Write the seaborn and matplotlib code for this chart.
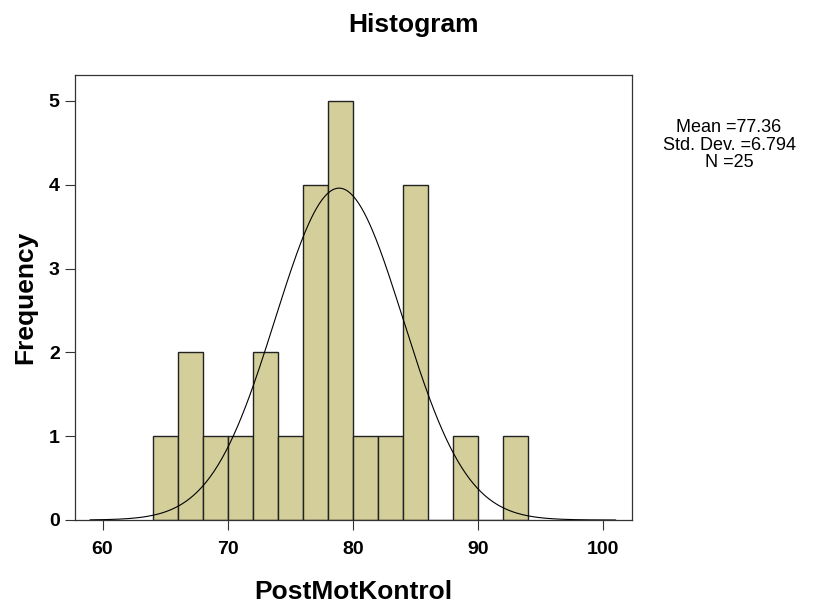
import numpy as np
import pandas as pd
import seaborn as sns
import matplotlib.pyplot as plt

# histogram bins (width 2) and frequencies
bin_left = [64, 66, 68, 70, 72, 74, 76, 78, 80, 82, 84, 86, 88, 90, 92]
freq = [1, 2, 1, 1, 2, 1, 4, 5, 1, 1, 4, 0, 1, 0, 1]
bin_width = 2

# fitted normal curve as drawn in the picture
curve_mean = 78.9
curve_sd = 5.1
curve_peak = 3.96

stats_text = "Mean =77.36\nStd. Dev. =6.794\nN =25"

df = pd.DataFrame({"value": [b + bin_width / 2 for b in bin_left], "freq": freq})

sns.set_style("ticks")
plt.rcParams['font.family'] = ['Liberation Sans', 'DejaVu Sans']
plt.rcParams['text.color'] = 'black'
plt.rcParams['xtick.labelcolor'] = 'black'
plt.rcParams['ytick.labelcolor'] = 'black'
plt.rcParams['axes.labelcolor'] = 'black'

fig = plt.figure(figsize=(8.13, 6.03), dpi=100)
ax = fig.add_axes([75 / 813, 83 / 603, 557 / 813, 445 / 603])

sns.histplot(data=df, x="value", weights="freq",
             binwidth=bin_width, binrange=(64, 94), ax=ax,
             color="#D3CE9A", edgecolor="#222222", linewidth=1.0, alpha=1)

xs = np.linspace(59, 101, 400)
ys = curve_peak * np.exp(-((xs - curve_mean) ** 2) / (2 * curve_sd ** 2))
sns.lineplot(x=xs, y=ys, ax=ax, color="black", linewidth=0.8)

ax.set_xlim(57.8, 102.3)
ax.set_ylim(0, 5.31)
ax.set_xticks([60, 70, 80, 90, 100])
ax.set_yticks([0, 1, 2, 3, 4, 5])
ax.tick_params(labelsize=14, length=7, width=0.8, color="#333333", pad=4)
ax.tick_params(axis="x", pad=8)
for lab in ax.get_xticklabels() + ax.get_yticklabels():
    lab.set_fontweight("bold")
for s in ax.spines.values():
    s.set_linewidth(0.9)
    s.set_color("#333333")

ax.set_xlabel("PostMotKontrol", fontsize=19, fontweight="bold", labelpad=16)
ax.set_ylabel("Frequency", fontsize=19, fontweight="bold", labelpad=8)
fig.text(413 / 813, 1 - 25 / 603, "Histogram", ha="center", va="center",
         fontsize=19, fontweight="bold")
fig.text(729 / 813, 1 - 145 / 603, stats_text, ha="center", va="center",
         fontsize=13, linespacing=1.05)

fig.savefig("out.png", dpi=100)
